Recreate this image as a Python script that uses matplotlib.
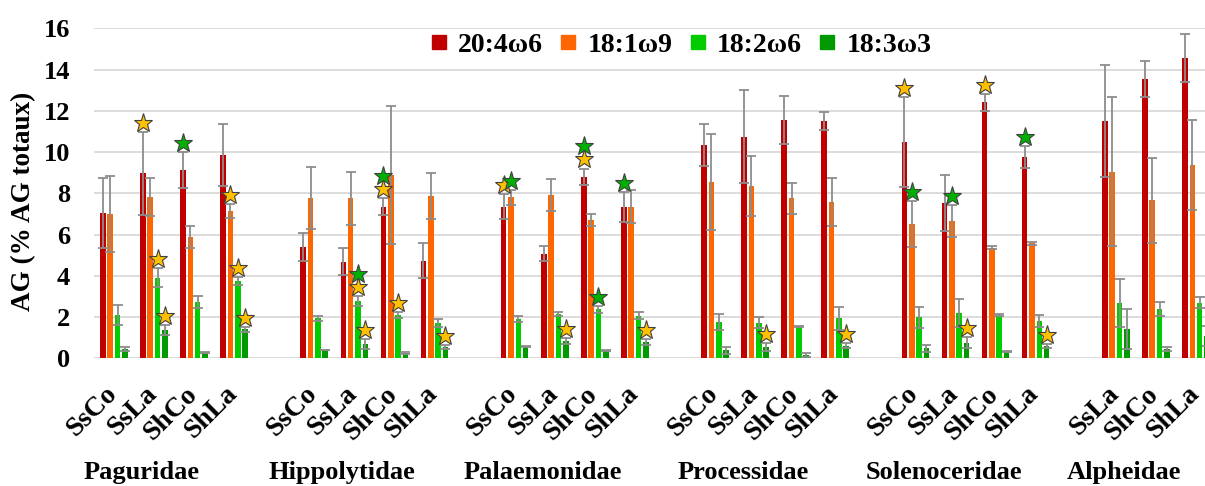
import matplotlib
matplotlib.use("Agg")
import matplotlib.pyplot as plt
from matplotlib.lines import Line2D
import numpy as np

# families and sample labels (Alpheidae has no SsCo)
families = ['Paguridae', 'Hippolytidae', 'Palaemonidae', 'Processidae', 'Solenoceridae', 'Alpheidae']
sites = [['SsCo', 'SsLa', 'ShCo', 'ShLa']] * 5 + [['SsLa', 'ShCo', 'ShLa']]

series = ['20:4\u03c96', '18:1\u03c99', '18:2\u03c96', '18:3\u03c93']
colors = ['#C00000', '#FF6600', '#00CC00', '#009900']

# means (one entry per bar, family by family)
ara = [7.03, 8.97, 9.13, 9.85, 5.41, 4.68, 7.35, 4.72, 7.35, 5.08, 8.80, 7.35,
       10.34, 10.74, 11.55, 11.52, 10.47, 7.51, 12.41, 9.77, 11.52, 13.54, 14.56]
ole = [7.00, 7.83, 5.89, 7.14, 7.79, 7.76, 8.89, 7.87, 7.80, 7.92, 6.70, 7.35,
       8.53, 8.35, 7.76, 7.56, 6.51, 6.66, 5.36, 5.57, 9.05, 7.67, 9.37]
lin = [2.10, 3.91, 2.74, 3.75, 1.94, 2.78, 2.10, 1.73, 1.90, 2.13, 2.38, 2.07,
       1.77, 1.73, 1.53, 1.94, 1.99, 2.21, 2.10, 1.81, 2.70, 2.38, 2.70]
aln = [0.44, 1.37, 0.29, 1.41, 0.40, 0.69, 0.24, 0.56, 0.56, 0.84, 0.37, 0.78,
       0.39, 0.55, 0.16, 0.60, 0.48, 0.76, 0.31, 0.60, 1.44, 0.45, 1.08]

# standard deviations
ara_sd = [1.70, 2.00, 0.85, 1.50, 0.68, 0.65, 0.41, 0.85, 0.60, 0.36, 0.40, 0.73,
          1.00, 2.26, 1.18, 0.43, 2.18, 1.36, 0.40, 0.52, 2.71, 0.89, 1.16]
ole_sd = [1.84, 0.92, 0.52, 0.32, 1.50, 1.29, 3.34, 1.10, 0.36, 0.76, 0.28, 0.81,
          2.33, 1.46, 0.75, 1.16, 1.10, 0.76, 0.08, 0.08, 3.60, 2.06, 2.18]
lin_sd = [0.50, 0.45, 0.29, 0.20, 0.12, 0.25, 0.15, 0.19, 0.15, 0.10, 0.17, 0.16,
          0.39, 0.26, 0.02, 0.56, 0.51, 0.68, 0.03, 0.27, 1.16, 0.34, 0.26]
aln_sd = [0.10, 0.23, 0.02, 0.12, 0.02, 0.23, 0.05, 0.10, 0.02, 0.13, 0.02, 0.14,
          0.17, 0.18, 0.08, 0.12, 0.16, 0.26, 0.02, 0.08, 0.97, 0.10, 0.50]

# significance stars: y = yellow, g = green (stacked upward)
ara_st = ['', 'y', 'g', '', '', '', 'yg', '', 'y', '', 'yg', 'g',
          '', '', '', '', 'y', '', 'y', 'g', '', '', '']
ole_st = ['', '', '', 'y', '', '', '', '', 'g', '', '', '',
          '', '', '', '', 'g', 'g', '', '', '', '', '']
lin_st = ['', 'y', '', 'y', '', 'yg', 'y', '', '', '', 'g', '',
          '', '', '', '', '', '', '', '', '', '', '']
aln_st = ['', 'y', '', 'y', '', 'y', '', 'y', '', 'y', '', 'y',
          '', 'y', '', 'y', '', 'y', '', 'y', '', '', '']

means = [ara, ole, lin, aln]
sds = [ara_sd, ole_sd, lin_sd, aln_sd]
stars = [ara_st, ole_st, lin_st, aln_st]
star_col = {'y': '#FFC000', 'g': '#00B000'}

serif = 'Liberation Serif'
plt.rcParams['font.family'] = serif
plt.rcParams['font.weight'] = 'bold'

# slot of each bar: each family starts every 5 slots
slots = []
labels = []
for i, s in enumerate(sites):
    for j, lab in enumerate(s):
        slots.append(5 * i + j)
        labels.append(lab)
slots = np.array(slots, dtype=float)

fig = plt.figure(figsize=(12.05, 4.86), dpi=100)
ax = fig.add_axes([93.8 / 1205, (486 - 358.3) / 486, (28 * 40.08) / 1205, 330 / 486])

step = 0.183
width = 0.14
for k in range(4):
    xs = slots + (k - 1.5) * step
    ax.bar(xs, means[k], width=width, color=colors[k], zorder=2)
    ax.errorbar(xs, means[k], yerr=sds[k], fmt='none', ecolor='#8c8c8c',
                elinewidth=1.3, capsize=3.5, capthick=1.3, zorder=3)
    for x, m, s, st in zip(xs, means[k], sds[k], stars[k]):
        y = m + s + 0.44
        for c in st:
            ax.plot(x, y, marker='*', ms=14, color=star_col[c],
                    mec='#404040', mew=0.8, zorder=4, clip_on=False)
            y += 0.64

ax.set_xlim(-0.5, 27.5)
ax.set_ylim(0, 16)
ax.set_yticks(range(0, 17, 2))
ax.tick_params(axis='y', length=0, pad=17, labelsize=19)
ax.set_xticks([])
ax.yaxis.grid(True, color='#d9d9d9', lw=1.3, zorder=0)
for sp in ax.spines.values():
    sp.set_visible(False)

for x, lab in zip(slots, labels):
    ax.text(x + 0.2, -0.07, lab, transform=ax.get_xaxis_transform(),
            rotation=45, ha='right', va='top', fontsize=20, fontweight='bold')

for i, fam in enumerate(families):
    fx = np.mean(slots[[j for j, x in enumerate(slots) if 5 * i <= x < 5 * i + 5]]) - 0.8
    ax.text(fx, -0.366, fam, transform=ax.get_xaxis_transform(),
            ha='center', va='baseline', fontsize=19, fontweight='bold')

fig.text(24 / 1205, 1 - 201 / 486, 'AG (% AG totaux)', rotation=90,
         ha='center', va='center', fontsize=19.5, fontweight='bold')

handles = [Line2D([], [], marker='s', ls='', color=c, markersize=9.5) for c in colors]
ax.legend(handles, series, ncol=4, loc='center', bbox_to_anchor=(0.522, 0.949),
          frameon=False, handletextpad=0.3, columnspacing=0.5, handlelength=0.8,
          prop={'family': serif, 'weight': 'bold', 'size': 20})

fig.savefig('out.png', dpi=100)
